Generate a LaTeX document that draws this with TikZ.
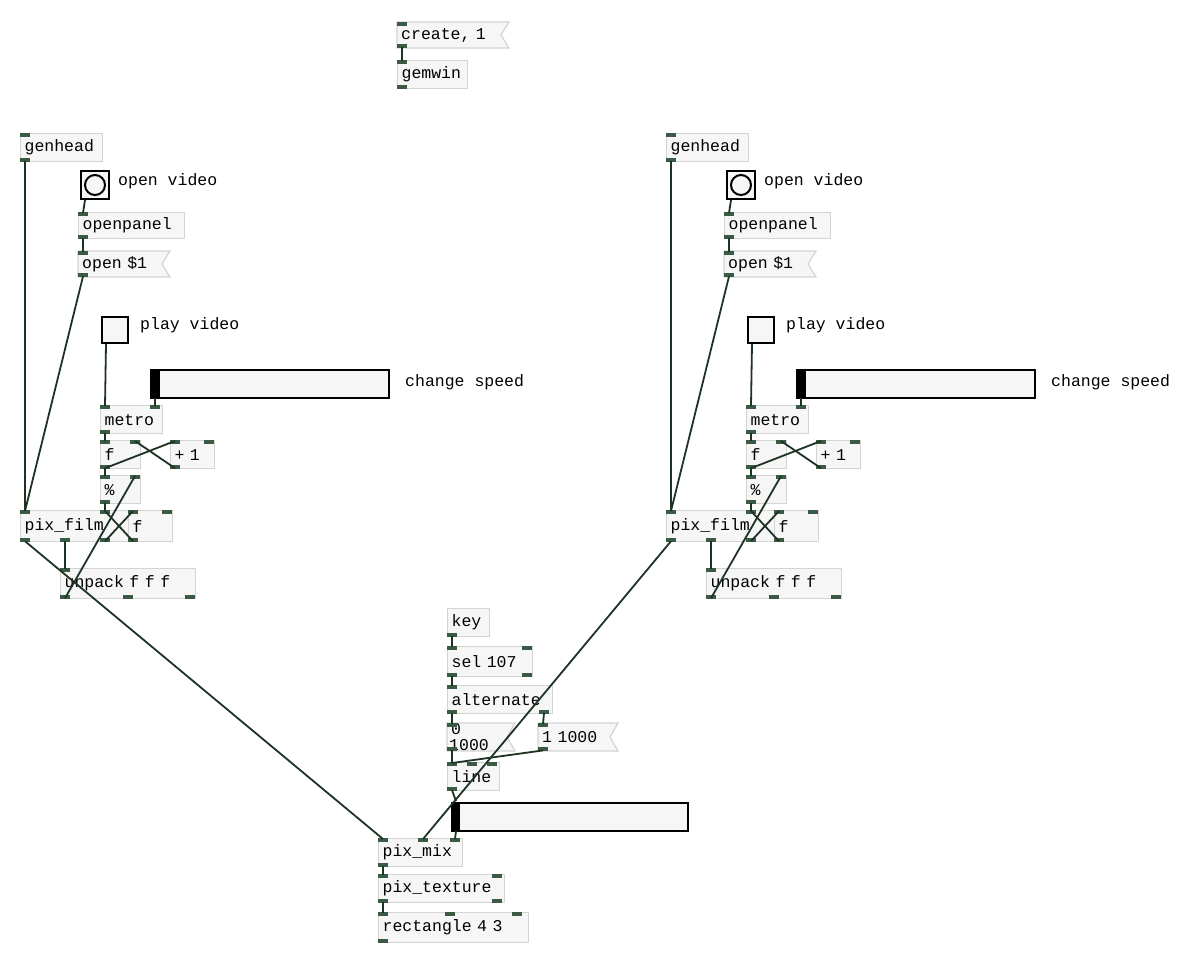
\documentclass[tikz,border=0pt]{standalone}
\usepackage{fontspec}
\setmonofont{Liberation Mono}
\usetikzlibrary{calc}
\definecolor{boxgray}{HTML}{D4D4D4}
\definecolor{boxfill}{HTML}{F6F6F6}
\definecolor{portc}{HTML}{3A5A44}
\definecolor{wire}{HTML}{1E3323}
\tikzset{
 obj/.style={draw=boxgray,fill=boxfill,line width=1.2pt,inner sep=0pt,font=\ttfamily\fontsize{16.5}{16.5}\selectfont,align=left,anchor=north west},
 msgt/.style={inner sep=0pt,font=\ttfamily\fontsize{16.5}{16.5}\selectfont,align=left,anchor=north west},
 port/.style={fill=portc},
 wire/.style={draw=wire,line width=1.8pt},
 gui/.style={draw=black,line width=2pt,fill=boxfill},
 lbl/.style={font=\ttfamily\fontsize{16.5}{16.5}\selectfont,anchor=west,inner sep=0pt}
}
\newcommand\pdo[6]{\node[obj,minimum width=#4,minimum height=#5,text width=#4-4] (#1) at (#2,#3) {\hspace*{2pt}#6};}
\newcommand\pdm[6]{\draw[draw=boxgray,fill=boxfill,line width=1.2pt] (#2,#3)--(#2+#4+8,#3)--(#2+#4,#3+#5/2)--(#2+#4+8,#3+#5)--(#2,#3+#5)--cycle;
 \node[msgt,minimum width=#4,minimum height=#5,text width=#4-4] (#1) at (#2,#3) {\hspace*{2pt}#6};}
\newcommand\pin[3]{\fill[port] ($(#1.north west)+(#3,0)$) rectangle ++(10,4);
 \coordinate (#1-i#2) at ($(#1.north west)+(#3+5,1)$);}
\newcommand\pout[3]{\fill[port] ($(#1.south west)+(#3,0)$) rectangle ++(10,-4);
 \coordinate (#1-o#2) at ($(#1.south west)+(#3+5,-1)$);}
\begin{document}
\begin{tikzpicture}[x=1pt,y=-1pt]
\useasboundingbox (0,0) rectangle (1200,967);
% top
\pdm{create}{397}{22}{104}{26}{create, 1}\pin{create}{0}{0}\pout{create}{0}{0}
\pdo{gemwin}{397}{60}{70}{28}{gemwin}\pin{gemwin}{0}{0}\pout{gemwin}{0}{0}
\draw[wire] (create-o0)--(gemwin-i0);
% columns
\foreach \c/\dx in {L/0,R/646}{
 \pdo{gh\c}{20+\dx}{133}{82}{28}{genhead}\pin{gh\c}{0}{0}\pout{gh\c}{0}{0}
 \node[gui,minimum size=28,inner sep=0pt,anchor=north west] (bg\c) at (80+\dx,170) {};
 \draw[line width=2pt] (bg\c.center) circle (10);
 \node[lbl] (bgl\c) at (118+\dx,181) {open video};
 \coordinate (bg\c-o0) at ($(bg\c.south west)+(5,0)$);
 \pdo{op\c}{78+\dx}{212}{106}{26}{openpanel}\pin{op\c}{0}{0}\pout{op\c}{0}{0}
 \pdm{om\c}{78+\dx}{251}{84}{26}{open \$1}\pin{om\c}{0}{0}\pout{om\c}{0}{0}
 \node[gui,minimum size=26,inner sep=0pt,anchor=north west] (tg\c) at (101+\dx,316) {};
 \node[lbl] (tgl\c) at (140+\dx,325) {play video};
 \coordinate (tg\c-o0) at ($(tg\c.south west)+(5,0)$);
 \node[gui,minimum width=238,minimum height=28,inner sep=0pt,anchor=north west] (sl\c) at (150+\dx,369) {};
 \fill (150+\dx,369) rectangle (160+\dx,397);
 \node[lbl] (sll\c) at (405+\dx,382) {change speed};
 \coordinate (sl\c-o0) at (155+\dx,398);
 \pdo{me\c}{100+\dx}{405}{62}{28}{metro}\pin{me\c}{0}{0}\pin{me\c}{1}{50}\pout{me\c}{0}{0}
 \pdo{f\c}{100+\dx}{440}{40}{28}{f}\pin{f\c}{0}{0}\pin{f\c}{1}{30}\pout{f\c}{0}{0}
 \pdo{pl\c}{170+\dx}{440}{44}{28}{+ 1}\pin{pl\c}{0}{0}\pin{pl\c}{1}{34}\pout{pl\c}{0}{0}
 \pdo{md\c}{100+\dx}{475}{40}{28}{\%}\pin{md\c}{0}{0}\pin{md\c}{1}{30}\pout{md\c}{0}{0}
 \pdo{pf\c}{20+\dx}{510}{113}{31}{pix\_film}\pin{pf\c}{0}{0}\pin{pf\c}{1}{80}\pout{pf\c}{0}{0}\pout{pf\c}{1}{40}\pout{pf\c}{2}{80}
 \pdo{f2\c}{128+\dx}{510}{44}{31}{f}\pin{f2\c}{0}{0}\pin{f2\c}{1}{34}\pout{f2\c}{0}{0}
 \pdo{up\c}{60+\dx}{568}{135}{30}{unpack f f f}\pin{up\c}{0}{0}\pout{up\c}{0}{0}\pout{up\c}{1}{63}\pout{up\c}{2}{125}
 \draw[wire] (gh\c-o0)--(pf\c-i0);
 \draw[wire] (om\c-o0)--(pf\c-i0);
 \draw[wire] (bg\c-o0)--(op\c-i0);
 \draw[wire] (op\c-o0)--(om\c-i0);
 \draw[wire] (tg\c-o0)--(me\c-i0);
 \draw[wire] (sl\c-o0)--(me\c-i1);
 \draw[wire] (me\c-o0)--(f\c-i0);
 \draw[wire] (f\c-o0)--(pl\c-i0);
 \draw[wire] (pl\c-o0)--(f\c-i1);
 \draw[wire] (f\c-o0)--(md\c-i0);
 \draw[wire] (md\c-o0)--(pf\c-i1);
 \draw[wire] (pf\c-o2)--(f2\c-i0);
 \draw[wire] (f2\c-o0)--(pf\c-i1);
 \draw[wire] (pf\c-o1)--(up\c-i0);
 \draw[wire] (up\c-o0)--(md\c-i1);
}
% bottom
\pdo{key}{447}{608}{42}{28}{key}\pout{key}{0}{0}
\pdo{sel}{447}{646}{85}{30}{sel 107}\pin{sel}{0}{0}\pin{sel}{1}{75}\pout{sel}{0}{0}\pout{sel}{1}{75}
\pdo{alt}{447}{685}{105}{28}{alternate}\pin{alt}{0}{0}\pout{alt}{0}{0}\pout{alt}{1}{92}
\pdm{m0}{447}{723}{60}{28}{0 1000}\pin{m0}{0}{0}\pout{m0}{0}{0}
\pdm{m1}{538}{723}{72}{28}{1 1000}\pin{m1}{0}{0}\pout{m1}{0}{0}
\pdo{line}{447}{762}{52}{28}{line}\pin{line}{0}{0}\pin{line}{1}{20}\pin{line}{2}{40}\pout{line}{0}{0}
\node[gui,minimum width=236,minimum height=28,inner sep=0pt,anchor=north west] (sl) at (451,802) {};
\fill (451,802) rectangle (460,830);
\coordinate (sl-i0) at (456,801);\coordinate (sl-o0) at (456,831);
\pdo{mix}{378}{838}{84}{28}{pix\_mix}\pin{mix}{0}{0}\pin{mix}{1}{40}\pin{mix}{2}{72}\pout{mix}{0}{0}
\pdo{tex}{378}{874}{126}{28}{pix\_texture}\pin{tex}{0}{0}\pin{tex}{1}{114}\pout{tex}{0}{0}\pout{tex}{1}{114}
\pdo{rect}{378}{912}{150}{30}{rectangle 4 3}\pin{rect}{0}{0}\pin{rect}{1}{67}\pin{rect}{2}{134}\pout{rect}{0}{0}
\draw[wire] (key-o0)--(sel-i0);
\draw[wire] (sel-o0)--(alt-i0);
\draw[wire] (alt-o0)--(m0-i0);
\draw[wire] (alt-o1)--(m1-i0);
\draw[wire] (m0-o0)--(line-i0);
\draw[wire] (m1-o0)--(line-i0);
\draw[wire] (line-o0)--(sl-i0);
\draw[wire] (sl-o0)--(mix-i2);
\draw[wire] (mix-o0)--(tex-i0);
\draw[wire] (tex-o0)--(rect-i0);
\draw[wire] (pfL-o0)--(mix-i0);
\draw[wire] (pfR-o0)--(mix-i1);
\end{tikzpicture}
\end{document}
